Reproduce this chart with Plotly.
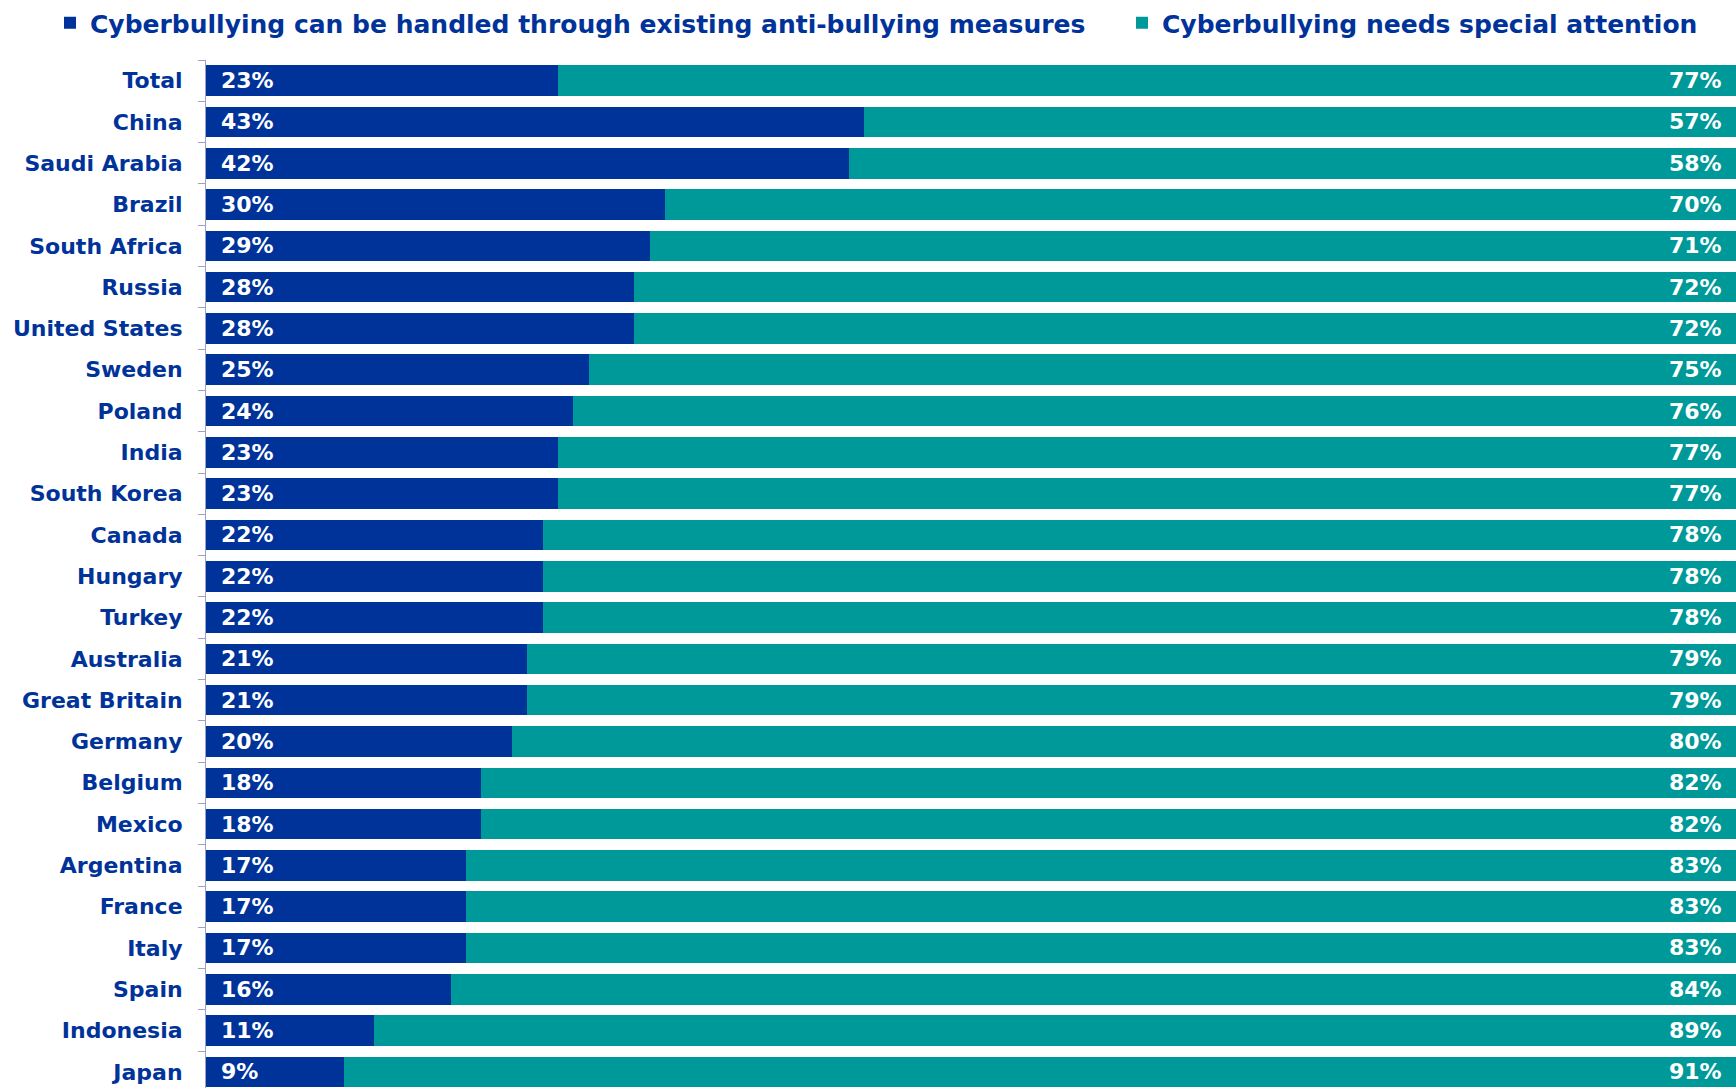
import plotly.graph_objects as go

categories = ["Total", "China", "Saudi Arabia", "Brazil", "South Africa", "Russia",
              "United States", "Sweden", "Poland", "India", "South Korea", "Canada",
              "Hungary", "Turkey", "Australia", "Great Britain", "Germany", "Belgium",
              "Mexico", "Argentina", "France", "Italy", "Spain", "Indonesia", "Japan"]
handled = [23, 43, 42, 30, 29, 28, 28, 25, 24, 23, 23, 22, 22, 22, 21, 21, 20, 18,
           18, 17, 17, 17, 16, 11, 9]
special = [77, 57, 58, 70, 71, 72, 72, 75, 76, 77, 77, 78, 78, 78, 79, 79, 80, 82,
           82, 83, 83, 83, 84, 89, 91]
series_names = ["Cyberbullying can be handled through existing anti-bullying measures",
                "Cyberbullying needs special attention"]

BLUE = "#003399"
TEAL = "#009999"
AXIS = "#9aa0c8"
FONT = "DejaVu Sans"

fig = go.Figure()
fig.add_trace(go.Bar(y=categories, x=handled, orientation="h", name=series_names[0],
                     marker=dict(color=BLUE, line=dict(width=0)), legend="legend",
                     showlegend=True))
fig.add_trace(go.Bar(y=categories, x=special, orientation="h", name=series_names[1],
                     marker=dict(color=TEAL, line=dict(width=0)), legend="legend2",
                     showlegend=True))

annotations = []
for c, v in zip(categories, handled):
    annotations.append(dict(x=0, y=c, xref="x", yref="y", text=f"{v}%", showarrow=False,
                            xanchor="left", xshift=13,
                            font=dict(family=FONT, size=22, color="white", weight="bold")))
for c, a, b in zip(categories, handled, special):
    annotations.append(dict(x=a + b, y=c, xref="x", yref="y", text=f"{b}%", showarrow=False,
                            xanchor="right", xshift=-12,
                            font=dict(family=FONT, size=22, color="white", weight="bold")))

PLOT_L, PLOT_W = 206, 1530
legend_font = dict(family=FONT, size=25, color=BLUE, weight="bold")
fig.update_layout(
    width=1736, height=1088,
    margin=dict(l=PLOT_L, r=0, t=60, b=0, autoexpand=False),
    showlegend=True,
    barmode="stack", bargap=0.26,
    plot_bgcolor="white", paper_bgcolor="white",
    font=dict(family=FONT, color=BLUE),
    xaxis=dict(range=[0, 100], visible=False, fixedrange=True, automargin=False),
    yaxis=dict(type="category", categoryorder="array", categoryarray=categories,
               range=[24.39, -0.5], showline=True, linecolor=AXIS, linewidth=1,
               ticks="outside", tickson="boundaries", ticklen=7, tickcolor=AXIS,
               tickwidth=1, showgrid=False, ticklabelstandoff=18, automargin=False,
               fixedrange=True,
               tickfont=dict(family=FONT, size=22, color=BLUE, weight="bold")),
    legend=dict(orientation="h", xref="paper", yref="container",
                x=(50 - PLOT_L) / PLOT_W, xanchor="left", y=1 - 23/1088,
                yanchor="middle", itemwidth=30, font=legend_font,
                bgcolor="rgba(0,0,0,0)", borderwidth=0,
                itemclick=False, itemdoubleclick=False),
    legend2=dict(orientation="h", xref="paper", yref="container",
                 x=(1122 - PLOT_L) / PLOT_W, xanchor="left", y=1 - 23/1088,
                 yanchor="middle", itemwidth=30, font=legend_font,
                 bgcolor="rgba(0,0,0,0)", borderwidth=0,
                 itemclick=False, itemdoubleclick=False),
    annotations=annotations,
)

fig.write_html("out.html", config={"displayModeBar": False},
               post_script="document.body.style.margin='0';document.body.style.overflow='hidden';")
